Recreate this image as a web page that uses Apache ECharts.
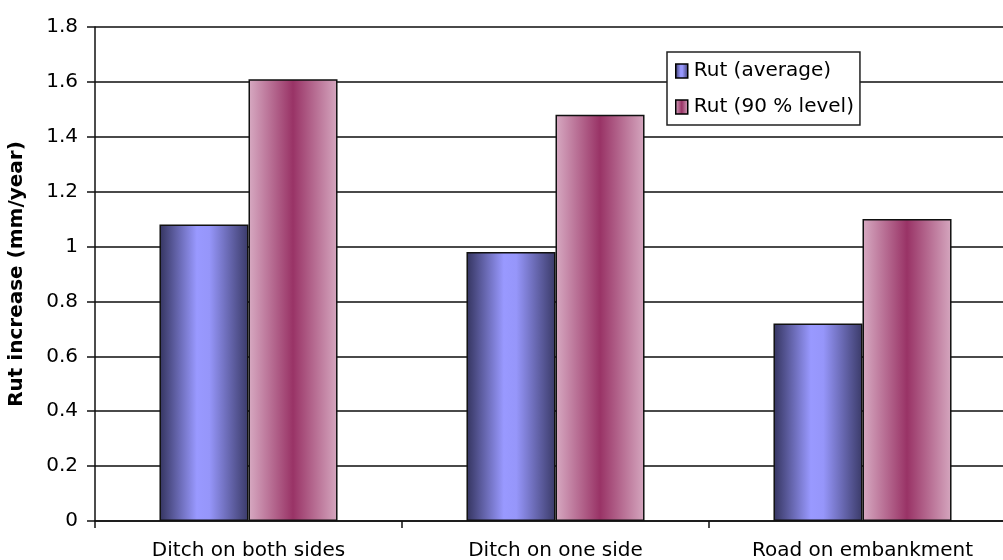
<!DOCTYPE html>
<html>
<head>
<meta charset="utf-8">
<title>Rut increase by drainage condition</title>
<script src="https://cdn.jsdelivr.net/npm/echarts@6/dist/echarts.min.js"></script>
<style>
  html, body { margin: 0; padding: 0; background: #fff; }
  #chart { width: 1003px; height: 560px; }
</style>
</head>
<body>
<div id="chart"></div>
<script>
// Road drainage categories
const categories = ['Ditch on both sides', 'Ditch on one side', 'Road on embankment'];
// Rut increase, mm/year
const rutAverage = [1.08, 0.98, 0.72];
const rut90 = [1.61, 1.48, 1.10];
const seriesNames = ['Rut (average)', 'Rut (90 % level)'];
const axisTitle = 'Rut increase (mm/year)';

const FONT = 'DejaVu Sans';

// Cylinder-like horizontal shading for each bar
const blueFill = new echarts.graphic.LinearGradient(0, 0, 1, 0, [
  { offset: 0, color: '#34345f' },
  { offset: 0.42, color: '#9999ff' },
  { offset: 0.56, color: '#9696fa' },
  { offset: 1, color: '#3a3a68' }
]);
const pinkFill = new echarts.graphic.LinearGradient(0, 0, 1, 0, [
  { offset: 0, color: '#d7aac2' },
  { offset: 0.5, color: '#993366' },
  { offset: 1, color: '#d5a7bf' }
]);

const chart = echarts.init(document.getElementById('chart'), null, { renderer: 'canvas' });

chart.setOption({
  backgroundColor: '#ffffff',
  animation: false,
  // plot area runs past the right edge of the canvas
  grid: { left: 95, width: 921, top: 27, bottom: 39, outerBoundsMode: 'none' },
  legend: {
    orient: 'vertical',
    left: 667,
    top: 52,
    padding: [9, 6, 8, 8],
    itemGap: 16,
    itemWidth: 12,
    itemHeight: 14,
    icon: 'rect',
    backgroundColor: '#ffffff',
    borderColor: '#222',
    borderWidth: 1.5,
    itemStyle: { borderColor: '#000', borderWidth: 1.5 },
    textStyle: { fontFamily: FONT, fontSize: 20, color: '#000', padding: [0, 0, 0, 1] },
    data: seriesNames
  },
  xAxis: {
    type: 'category',
    data: categories,
    axisLine: { show: true, lineStyle: { color: '#111', width: 1.5 } },
    axisTick: { show: true, length: 7, lineStyle: { color: '#111', width: 1.5 } },
    axisLabel: { fontFamily: FONT, fontSize: 20, color: '#000', margin: 20, interval: 0 },
    splitLine: { show: false }
  },
  yAxis: {
    type: 'value',
    min: 0,
    max: 1.8,
    interval: 0.2,
    name: axisTitle,
    nameLocation: 'middle',
    nameGap: 68,
    nameTextStyle: { fontFamily: FONT, fontSize: 20, fontWeight: 'bold', color: '#000' },
    axisLine: { show: true, lineStyle: { color: '#111', width: 1.5 } },
    axisTick: { show: true, length: 8, lineStyle: { color: '#111', width: 1.5 } },
    axisLabel: { fontFamily: FONT, fontSize: 20, color: '#000', margin: 17 },
    splitLine: { show: true, lineStyle: { color: '#4a4a4a', width: 1.8 } }
  },
  series: [
    {
      name: seriesNames[0],
      type: 'bar',
      data: rutAverage,
      barGap: '0%',
      barCategoryGap: '42%',
      itemStyle: { color: blueFill, borderColor: '#111', borderWidth: 1.5 }
    },
    {
      name: seriesNames[1],
      type: 'bar',
      data: rut90,
      barGap: '0%',
      barCategoryGap: '42%',
      itemStyle: { color: pinkFill, borderColor: '#111', borderWidth: 1.5 }
    }
  ]
});
</script>
</body>
</html>
